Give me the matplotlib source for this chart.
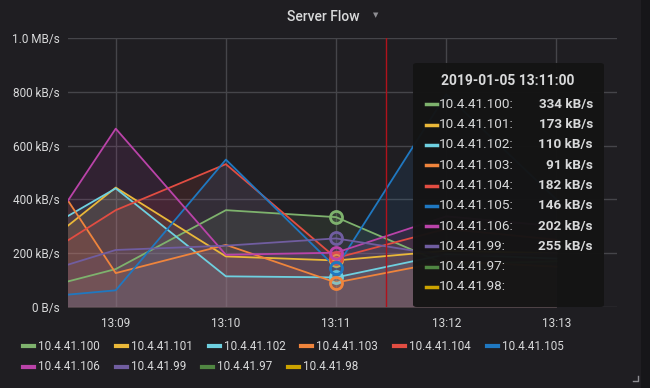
import matplotlib
matplotlib.use("Agg")
import matplotlib.pyplot as plt
import numpy as np
from matplotlib.patches import FancyBboxPatch, Rectangle
from matplotlib.lines import Line2D

plt.rcParams["font.family"] = ["Roboto", "DejaVu Sans"]

W, H = 650, 388

# data (kB/s), one value per minute
times = ["13:08", "13:09", "13:10", "13:11", "13:12", "13:13"]
tick_labels = ["13:09", "13:10", "13:11", "13:12", "13:13"]
names = ["10.4.41.100", "10.4.41.101", "10.4.41.102", "10.4.41.103",
         "10.4.41.104", "10.4.41.105", "10.4.41.106", "10.4.41.99",
         "10.4.41.97", "10.4.41.98"]
colors = ["#7EB26D", "#EAB839", "#6ED0E0", "#EF843C", "#E24D42",
          "#1F78C1", "#BA43A9", "#705DA0", "#508642", "#CCA300"]
v100 = [35, 141, 360, 334, 158, 170]
v101 = [117, 444, 188, 173, 209, 200]
v102 = [204, 441, 114, 110, 196, 180]
v103 = [748, 126, 231, 91, 170, 150]
v104 = [101, 360, 531, 182, 291, 250]
v105 = [25, 62, 548, 146, 790, 400]
v106 = [46, 663, 194, 202, 337, 300]
v99 = [86, 212, 228, 255, 190, 200]
v97 = []
v98 = []
series = [v100, v101, v102, v103, v104, v105, v106, v99, v97, v98]
hover_time = "13:11"
hover_line = "13:11:27"


def minutes(t):
    parts = [int(p) for p in t.split(":")]
    m = parts[0] * 60 + parts[1]
    if len(parts) > 2:
        m += parts[2] / 60
    return m - 13 * 60


def px(x, y):
    return x / W, 1 - y / H


bg = "#1f1e22"
txt = "#d8d9da"

fig = plt.figure(figsize=(W / 100, H / 100), dpi=100, facecolor=bg)
fig.patches.append(Rectangle((641 / W, 0), 9 / W, 1, transform=fig.transFigure,
                             facecolor="#161619", edgecolor="none"))

ax = fig.add_axes([68 / W, 1 - 307 / H, (617 - 68) / W, (307 - 38) / H])
ax.set_facecolor(bg)
for s in ax.spines.values():
    s.set_visible(False)

x = np.array([minutes(t) for t in times])
for vals, c in zip(series, colors):
    if not vals:
        continue
    ax.fill_between(x, vals, 0, color=c, alpha=0.12, linewidth=0)
    ax.plot(x, vals, color=c, linewidth=1.3)

# hover markers
hi = times.index(hover_time)
for vals, c in zip(series, colors):
    if vals:
        ax.scatter([x[hi]], [vals[hi]], s=75, facecolor=c + "33", edgecolor=c,
                   linewidth=2, zorder=5)
ax.axvline(minutes(hover_line), color="#b0121c", linewidth=1, zorder=6)

ax.set_xlim(minutes("13:08:34"), minutes("13:13:33"))
ax.set_ylim(0, 1000)
ax.set_xticks([minutes(t) for t in tick_labels])
ax.set_xticklabels(tick_labels)
yt = [0, 200, 400, 600, 800, 1000]
ax.set_yticks(yt)
ax.set_yticklabels(["0 B/s" if v == 0 else ("%.1f MB/s" % (v / 1000) if v >= 1000 else "%d kB/s" % v) for v in yt])
ax.tick_params(colors=txt, labelsize=8.5, length=0)
ax.tick_params(axis="y", pad=6)
ax.tick_params(axis="x", pad=7)
ax.grid(True, color="#45454a", linewidth=1)
ax.set_axisbelow(True)

# title
fig.text(*px(323, 17), "Server Flow", color=txt, fontsize=10, fontweight="medium",
         ha="center", va="center")
fig.text(*px(376, 15), "\u25bc", color="#8e8e93", fontsize=5, ha="center", va="center",
         family="DejaVu Sans")

# tooltip
fig.patches.append(FancyBboxPatch((413 / W, 1 - 307 / H), (604 - 413) / W, (307 - 63) / H,
                                  boxstyle="round,pad=0,rounding_size=0.006",
                                  transform=fig.transFigure, facecolor="#141414",
                                  edgecolor="none", alpha=0.97, zorder=10))
fig.text(*px(508, 81), "2019-01-05 " + hover_time + ":00", color=txt, fontsize=10,
         fontweight="bold", ha="center", va="center", zorder=11)
for i, (n, vals, c) in enumerate(zip(names, series, colors)):
    yy = 104.3 + i * 20.3
    fig.lines.append(Line2D([426 / W, 437 / W], [1 - yy / H] * 2, transform=fig.transFigure,
                            color=c, linewidth=2.5, zorder=11))
    fig.text(*px(439, yy), n + ":", color=txt, fontsize=9.7, ha="left", va="center", zorder=11)
    if vals:
        fig.text(*px(593, yy), "%d kB/s" % vals[hi], color=txt, fontsize=9.7,
                 fontweight="bold", ha="right", va="center", zorder=11)

# legend, flowing left to right
fig.canvas.draw()
r = fig.canvas.get_renderer()
lx, ly = 23, 346
for n, c in zip(names, colors):
    t = fig.text(*px(lx + 15, ly), n, color=txt, fontsize=8.4, ha="left", va="center")
    w = t.get_window_extent(renderer=r).width
    if lx + 15 + w > 625:
        lx, ly = 23, ly + 21
        t.set_position(px(lx + 15, ly))
    fig.lines.append(Line2D([lx / W, (lx + 11) / W], [1 - ly / H] * 2, transform=fig.transFigure,
                            color=c, linewidth=3))
    lx = lx + 15 + w + 16

# resize handle
fig.lines.append(Line2D([633 / W, 638 / W, 638 / W], [1 - 381 / H, 1 - 381 / H, 1 - 376 / H],
                        transform=fig.transFigure, color="#8e8e93", linewidth=1))

fig.savefig("out.png", dpi=100, facecolor=bg)
